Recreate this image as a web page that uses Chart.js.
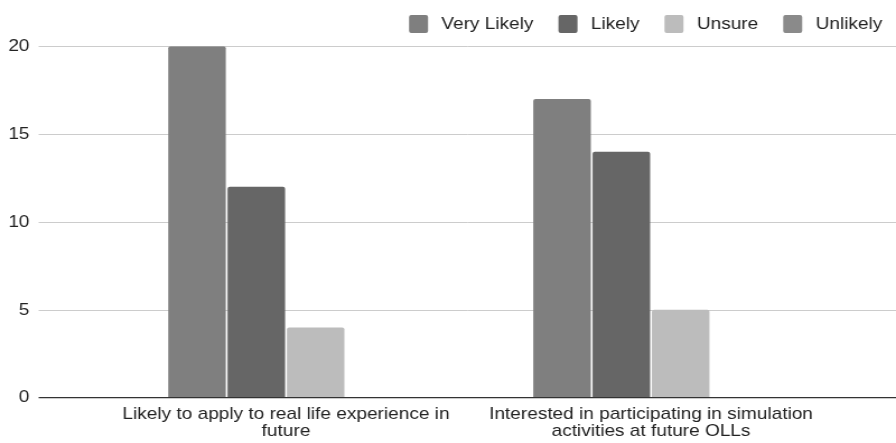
<!DOCTYPE html>
<html>
<head>
<meta charset="utf-8">
<script src="https://cdn.jsdelivr.net/npm/chart.js@4.4.1/dist/chart.umd.min.js"></script>
<style>
  html, body { margin: 0; padding: 0; background: #fff; overflow: hidden; }
  /* the chart is laid out 800px wide and widened to the 896px page */
  #wrap { position: absolute; left: 0; top: 0; width: 800px; height: 443px;
          transform: scaleX(1.12); transform-origin: 0 0; }
  #c { display: block; }
</style>
</head>
<body>
<div id="wrap"><canvas id="c" width="800" height="443"></canvas></div>
<script>
// Survey responses per question
const categories = [
  ['Likely to apply to real life experience in', 'future'],
  ['Interested in participating in simulation', 'activities at future OLLs']
];
const seriesNames = ['Very Likely', 'Likely', 'Unsure', 'Unlikely'];
const veryLikely = [20, 17];
const likely = [12, 14];
const unsure = [4, 5];
const unlikely = [0, 0];
const yTicks = [0, 5, 10, 15, 20];
const seriesColors = ['#7f7f7f', '#666666', '#bcbcbc', '#8a8a8a'];

const valueSets = [veryLikely, likely, unsure, unlikely];
const datasets = seriesNames.map((name, i) => ({
  label: name,
  data: valueSets[i],
  backgroundColor: seriesColors[i],
  borderWidth: 0,
  borderRadius: 2,
  categoryPercentage: 0.65,
  barPercentage: 0.97
}));

Chart.defaults.font.family = "'Liberation Sans', Arial, sans-serif";
Chart.defaults.font.size = 17;
Chart.defaults.color = '#222';

// Horizontal gridlines and the baseline run the full width of the plot band
const GRID_LEFT = 34.5;
const fullGrid = {
  id: 'fullGrid',
  beforeDatasetsDraw(chart) {
    const y = chart.scales.y, ctx = chart.ctx;
    ctx.save();
    ctx.strokeStyle = '#cccccc';
    ctx.lineWidth = 1;
    y.ticks.forEach(t => {
      if (t.value === 0) return;
      const py = Math.round(y.getPixelForValue(t.value)) + 0.5;
      ctx.beginPath();
      ctx.moveTo(GRID_LEFT, py);
      ctx.lineTo(chart.width, py);
      ctx.stroke();
    });
    ctx.restore();
  },
  afterDatasetsDraw(chart) {
    const y = chart.scales.y, ctx = chart.ctx;
    const py = y.getPixelForValue(0);
    ctx.save();
    ctx.strokeStyle = '#333333';
    ctx.lineWidth = 1.3;
    ctx.beginPath();
    ctx.moveTo(GRID_LEFT, py);
    ctx.lineTo(chart.width, py);
    ctx.stroke();
    ctx.restore();
  }
};

// Legend sits in the top-right corner
const legendPlace = {
  id: 'legendPlace',
  afterLayout(chart) {
    const lg = chart.legend;
    const pad = lg.options.labels.padding;
    lg.left = 365.2 - pad;
    lg.right = chart.width + 200;
    lg.top = 15 - pad;
  }
};

new Chart(document.getElementById('c'), {
  type: 'bar',
  data: { labels: categories, datasets },
  options: {
    responsive: false,
    animation: false,
    layout: { padding: { left: 0, right: 55.8, top: 0, bottom: 0 } },
    plugins: {
      legend: {
        position: 'top',
        align: 'start',
        maxHeight: 46.3,
        labels: {
          boxWidth: 17,
          boxHeight: 18,
          padding: 22.3,
          color: '#222',
          font: { size: 17 },
          useBorderRadius: true,
          borderRadius: 2,
          generateLabels(chart) {
            return Chart.defaults.plugins.legend.labels.generateLabels(chart)
              .map(l => Object.assign(l, { text: '\u2009' + l.text }));
          }
        }
      },
      tooltip: { enabled: false }
    },
    scales: {
      x: {
        grid: { display: false, drawTicks: false },
        border: { display: false },
        ticks: { color: '#222', font: { size: 17, lineHeight: 1 }, padding: 8.6, maxRotation: 0, autoSkip: false },
        afterFit(s) { s.height = 45.3; }
      },
      y: {
        min: 0,
        max: 20,
        // invisible tick marks keep the value labels out at the left edge
        grid: { display: false, drawTicks: true, tickLength: 62 },
        border: { display: false },
        ticks: { color: '#222', font: { size: 17 }, padding: 4.1 },
        afterBuildTicks(s) { s.ticks = yTicks.map(v => ({ value: v })); },
        afterFit(s) { s.width = 92.4; }
      }
    }
  },
  plugins: [fullGrid, legendPlace]
});
</script>
</body>
</html>
